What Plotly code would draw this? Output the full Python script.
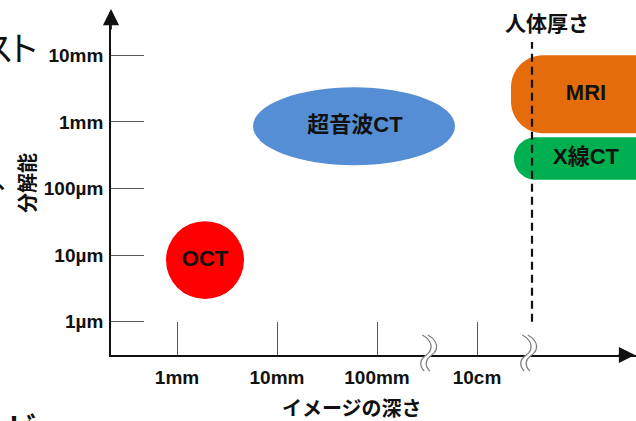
import plotly.graph_objects as go

# ---- axis scales (decades) -------------------------------------------------
depth_ticks = [0, 1, 2, 3]
depth_labels = ["1mm", "10mm", "100mm", "10cm"]
res_ticks = [0, 1, 2, 3, 4]
res_labels = ["1µm", "10µm", "100µm", "1mm", "10mm"]

axis_breaks = [2.52, 3.52]      # depth positions of the axis breaks
body_thickness = 3.55           # depth of the "人体厚さ" marker

# ---- imaging modalities ----------------------------------------------------
modality = ["OCT", "超音波CT", "MRI", "X線CT"]
depth_lo = [-0.11, 0.76, 3.34, 3.37]
depth_hi = [0.67, 2.78, 5.00, 5.00]
res_lo = [0.34, 2.35, 2.83, 2.13]
res_hi = [1.51, 3.52, 4.00, 2.77]
label_depth = [0.28, 1.78, 4.09, 4.09]
shape_kind = ["ellipse", "ellipse", "pill", "pill"]
corner_px = [0, 0, 32, 21.5]
fill_color = ["#FF0000", "#558ED5", "#E46C0A", "#00B050"]

# ---- page geometry ---------------------------------------------------------
W, H = 636, 421
ML, MR, MT, MB = 111, 0, 12, 66
X_RANGE = [-0.66, 4.59]
Y_RANGE = [-0.5, 4.65]
PW, PH = W - ML - MR, H - MT - MB
x_per_px = (X_RANGE[1] - X_RANGE[0]) / PW
y_per_px = (Y_RANGE[1] - Y_RANGE[0]) / PH


def px_x(px):
    return (px - ML) / PW


def px_y(py):
    return (H - MB - py) / PH


def data_to_paper_x(v):
    return (v - X_RANGE[0]) / (X_RANGE[1] - X_RANGE[0])


LATIN = "Liberation Sans, Arial, Noto Sans CJK JP, sans-serif"
CJK = "Noto Sans CJK JP, sans-serif"


def pill_path(x0, x1, y0, y1, r_px):
    rx, ry = r_px * x_per_px, r_px * y_per_px
    k = 0.5523
    return (
        f"M{x0 + rx},{y1} L{x1 - rx},{y1} "
        f"C{x1 - rx + k * rx},{y1} {x1},{y1 - ry + k * ry} {x1},{y1 - ry} "
        f"L{x1},{y0 + ry} "
        f"C{x1},{y0 + ry - k * ry} {x1 - rx + k * rx},{y0} {x1 - rx},{y0} "
        f"L{x0 + rx},{y0} "
        f"C{x0 + rx - k * rx},{y0} {x0},{y0 + ry - k * ry} {x0},{y0 + ry} "
        f"L{x0},{y1 - ry} "
        f"C{x0},{y1 - ry + k * ry} {x0 + rx - k * rx},{y1} {x0 + rx},{y1} Z"
    )


shapes = []
for i in range(len(modality)):
    if shape_kind[i] == "ellipse":
        shapes.append(dict(type="circle", xref="x", yref="y",
                           x0=depth_lo[i], x1=depth_hi[i],
                           y0=res_lo[i], y1=res_hi[i],
                           fillcolor=fill_color[i], line=dict(width=0),
                           layer="below"))
    else:
        shapes.append(dict(type="path", xref="x", yref="y",
                           path=pill_path(depth_lo[i], depth_hi[i],
                                          res_lo[i], res_hi[i], corner_px[i]),
                           fillcolor=fill_color[i], line=dict(width=0),
                           layer="below"))

# dashed body-thickness line
shapes.append(dict(type="line", xref="x", yref="y",
                   x0=body_thickness, x1=body_thickness, y0=res_ticks[0], y1=4.2,
                   line=dict(color="#111111", width=2.2, dash="8px,5px"),
                   layer="below"))

# axis break marks (two wavy strokes, axis hidden between them)
wave = [(-4, -20), (7, -14), (7, -5), (0, 0), (-7, 5), (-7, 11), (-2, 16)]
gap = 5.5
axis_py = H - MB


def wave_pts(cx_px, dx):
    return [(px_x(cx_px + dx + wx), px_y(axis_py + wy)) for wx, wy in wave]


def bez(pts):
    p = pts
    return (f"M{p[0][0]},{p[0][1]} C{p[1][0]},{p[1][1]} {p[2][0]},{p[2][1]} {p[3][0]},{p[3][1]} "
            f"C{p[4][0]},{p[4][1]} {p[5][0]},{p[5][1]} {p[6][0]},{p[6][1]}")


for b in axis_breaks:
    cx = ML + data_to_paper_x(b) * PW
    a = wave_pts(cx, -gap / 2)
    c = wave_pts(cx, gap / 2)
    mask = bez(a) + f" L{c[6][0]},{c[6][1]} " + \
        f"C{c[5][0]},{c[5][1]} {c[4][0]},{c[4][1]} {c[3][0]},{c[3][1]} " + \
        f"C{c[2][0]},{c[2][1]} {c[1][0]},{c[1][1]} {c[0][0]},{c[0][1]} Z"
    shapes.append(dict(type="path", xref="paper", yref="paper", path=mask,
                       fillcolor="white", line=dict(width=0), layer="above"))
    for pts in (a, c):
        shapes.append(dict(type="path", xref="paper", yref="paper", path=bez(pts),
                           line=dict(color="#7F7F7F", width=1.3), layer="above"))

fig = go.Figure()
fig.add_trace(go.Scatter(
    x=label_depth,
    y=[(lo + hi) / 2 for lo, hi in zip(res_lo, res_hi)],
    text=modality, mode="text",
    textfont=dict(family=LATIN, size=22, color="#111111", weight="bold"),
    hoverinfo="skip", cliponaxis=False,
))


def note(px, py, text, size, bold=True, xanchor="center", yanchor="middle",
         angle=0, family=CJK):
    return dict(x=px_x(px), y=px_y(py), xref="paper", yref="paper",
                showarrow=False, text=text, textangle=angle,
                xanchor=xanchor, yanchor=yanchor,
                font=dict(family=family, size=size, color="#111111",
                          weight="bold" if bold else "normal"))


annotations = [
    # axis arrowheads
    dict(x=0, y=px_y(9), xref="paper", yref="paper", ax=0, ay=22,
         showarrow=True, arrowhead=2, arrowsize=1.9, arrowwidth=1.7,
         arrowcolor="#111111", text=""),
    dict(x=px_x(639), y=0, xref="paper", yref="paper", ax=-22, ay=0,
         showarrow=True, arrowhead=2, arrowsize=1.9, arrowwidth=1.7,
         arrowcolor="#111111", text=""),
    # axis titles
    note(352, 408, "イメージの深さ", 20),
    note(27, 183, "分解能", 20, angle=-90),
    # body thickness marker
    note(547, 22, "人体厚さ", 21),
    # surrounding slide text (tight kana spacing)
    note(16, 46, "ス", 34, bold=False, xanchor="right"),
    note(42, 46, "ト", 34, bold=False, xanchor="right"),
    note(-5, 180, "、", 20, xanchor="left"),
    note(5, 402, "ビ", 30, xanchor="left", yanchor="top"),
]

axis_font = dict(family=LATIN, size=19, color="#111111", weight="bold")
fig.update_layout(
    width=W, height=H,
    margin=dict(l=ML, r=MR, t=MT, b=MB),
    paper_bgcolor="white", plot_bgcolor="white",
    showlegend=False, hovermode=False,
    shapes=shapes, annotations=annotations,
    xaxis=dict(range=X_RANGE, tickvals=depth_ticks, ticktext=depth_labels,
               ticks="inside", ticklen=33, tickwidth=1.3, tickcolor="#595959",
               showline=True, linecolor="#111111", linewidth=1.7,
               showgrid=False, zeroline=False, tickfont=axis_font,
               ticklabelstandoff=4, fixedrange=True),
    yaxis=dict(range=Y_RANGE, tickvals=res_ticks, ticktext=res_labels,
               ticks="inside", ticklen=33, tickwidth=1.3, tickcolor="#595959",
               showline=True, linecolor="#111111", linewidth=1.7,
               showgrid=False, zeroline=False, tickfont=axis_font,
               ticklabelstandoff=2, fixedrange=True),
)

fig.write_html("out.html", config={"displayModeBar": False})
